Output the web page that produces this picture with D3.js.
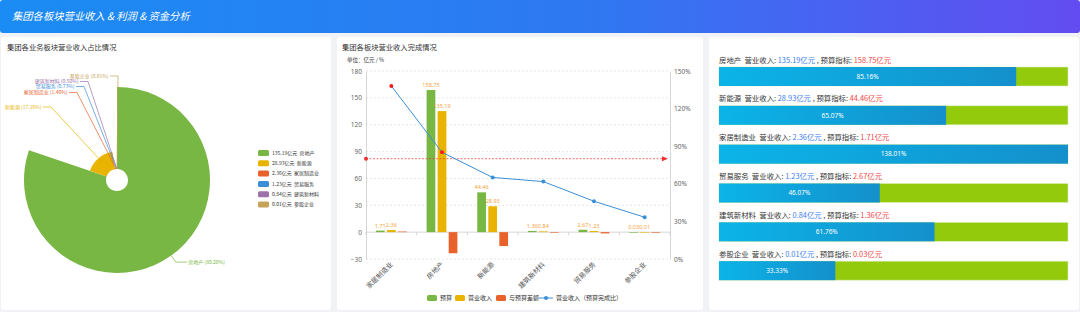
<!DOCTYPE html>
<html>
<head>
<meta charset="utf-8">
<script src="https://cdn.jsdelivr.net/npm/d3@7"></script>
<style>
  body { margin: 0; background: #f0f2f5; font-family: "Noto Sans CJK SC", "Noto Sans", sans-serif; }
  svg { display: block; }
  text { white-space: pre; }
</style>
</head>
<body>
<div id="chart"></div>
<script>
'use strict';

// data
let categories = ['房地产', '新能源', '家居制造业', '贸易服务', '建筑新材料', '参股企业'];
let revenue = [135.19, 28.93, 2.36, 1.23, 0.84, 0.01];
let budget = [158.75, 44.46, 1.71, 2.67, 1.36, 0.03];
let diff = [-23.56, -15.53, 0.65, -1.44, -0.52, -0.02];
let completion = [85.16, 65.07, 138.01, 46.07, 61.76, 33.33];
let targetRate = 80;
let leftTicks = [-30, 0, 30, 60, 90, 120, 150, 180];
let rightTicks = [0, 30, 60, 90, 120, 150];
let barSeries = ['预算', '营业收入', '与预算差额'];
let lineSeries = '营业收入（预算完成比）';

let colors = {
	'房地产': '#78b744', '新能源': '#e8b400', '家居制造业': '#e8622c',
	'贸易服务': '#3b8fd8', '建筑新材料': '#9b73a9', '参股企业': '#c5a45a'
};
let barColors = {'预算': '#78b744', '营业收入': '#e8b400', '与预算差额': '#e8622c'};

let rows = categories.map((c, i) => ({
	name: c, rev: revenue[i], budget: budget[i], diff: diff[i], rate: completion[i]
}));
let total = d3.sum(revenue);

let W = 1080, H = 312;
let svg = d3.select('#chart').append('svg')
	.attr('width', W)
	.attr('height', H);

let defs = svg.append('defs');
let hg = defs.append('linearGradient').attr('id', 'headGrad');
hg.append('stop').attr('offset', '0%').attr('stop-color', '#1a8cf3');
hg.append('stop').attr('offset', '55%').attr('stop-color', '#2f78f2');
hg.append('stop').attr('offset', '100%').attr('stop-color', '#634cf1');
let bg = defs.append('linearGradient').attr('id', 'blueGrad');
bg.append('stop').attr('offset', '0%').attr('stop-color', '#0bb4e8');
bg.append('stop').attr('offset', '100%').attr('stop-color', '#1490cc');

// header
svg.append('rect')
	.attr('x', 0).attr('y', 0).attr('width', W).attr('height', 33).attr('rx', 3)
	.attr('fill', 'url(#headGrad)');
svg.append('text')
	.attr('x', 12).attr('y', 19.5)
	.attr('fill', '#fff')
	.style('font-size', '10.3px')
	.style('font-style', 'italic')
	.text('集团各板块营业收入 & 利润 & 资金分析');

// panels
let panels = [[1, 331], [337, 703], [709, 1079]];
svg.selectAll('rect.panel')
	.data(panels)
	.join('rect')
	.classed('panel', true)
	.attr('x', d => d[0]).attr('y', 37)
	.attr('width', d => d[1] - d[0]).attr('height', 273)
	.attr('rx', 3)
	.attr('fill', '#fff');

svg.append('text').attr('x', 7).attr('y', 49.5)
	.style('font-size', '7.3px').attr('fill', '#333')
	.text('集团各业务板块营业收入占比情况');
svg.append('text').attr('x', 342).attr('y', 49.5)
	.style('font-size', '7.3px').attr('fill', '#333')
	.text('集团各板块营业收入完成情况');

// ---------- panel 1 : rose pie ----------
let cx = 117, cy = 180, r0 = 11, r1 = 93;
let clip1 = defs.append('clipPath').attr('id', 'clip1');
clip1.append('rect').attr('x', 1).attr('y', 37).attr('width', 330).attr('height', 273);
let pieG = svg.append('g').attr('clip-path', 'url(#clip1)');

let rose = d3.scaleLinear().domain(d3.extent(revenue)).range([r0, r1]);
let pie = d3.pie().sort(null).value(d => d.rev);
let arc = d3.arc().innerRadius(r0).outerRadius(d => rose(d.data.rev));
let arcs = pie(rows);

pieG.append('g').attr('transform', `translate(${cx},${cy})`)
	.selectAll('path')
	.data(arcs)
	.join('path')
	.attr('d', arc)
	.attr('fill', d => colors[d.data.name]);

// label layout: elbow point of the leader line for the crowded left-side labels
let labelPos = {
	'新能源': [51, 107], '家居制造业': [77, 92.5], '贸易服务': [84, 86.5],
	'建筑新材料': [88, 81.5], '参股企业': [118, 76]
};
arcs.forEach(d => {
	let a = (d.startAngle + d.endAngle) / 2;
	let dir = [Math.sin(a), -Math.cos(a)];
	let rr = rose(d.data.rev);
	let ax = cx + dir[0] * rr, ay = cy + dir[1] * rr;
	let pct = (d.data.rev / total * 100).toFixed(2);
	let col = colors[d.data.name];
	let ex, ey, tx, anchor, hx;
	if (labelPos[d.data.name]) {
		[ex, ey] = labelPos[d.data.name];
		hx = ex - 8; tx = ex - 9.5; anchor = 'end';
	} else {
		ex = ax + dir[0] * 8; ey = ay + dir[1] * 8;
		hx = ex + 11; tx = ex + 12.5; anchor = 'start';
	}
	pieG.append('polyline')
		.attr('points', [[ax, ay], [ex, ey], [hx, ey]].join(' '))
		.attr('fill', 'none').attr('stroke', col).attr('stroke-width', 0.7);
	pieG.append('text')
		.attr('x', tx).attr('y', ey)
		.attr('dy', '0.35em')
		.attr('text-anchor', anchor)
		.attr('fill', col)
		.style('font-size', '5px')
		.text(`${d.data.name} (${pct}%)`);
});

// pie legend
let leg1 = svg.append('g').attr('transform', 'translate(258,153)');
let legItems = leg1.selectAll('g')
	.data(rows)
	.join('g')
	.attr('transform', (d, i) => `translate(0,${i * 10.3})`);
legItems.append('rect')
	.attr('x', 0).attr('y', -3).attr('width', 11).attr('height', 6).attr('rx', 1.5)
	.attr('fill', d => colors[d.name]);
legItems.append('text')
	.attr('x', 14).attr('y', 0).attr('dy', '0.35em')
	.attr('fill', '#333')
	.style('font-size', '5px')
	.text(d => `${d.rev}亿元  ${d.name}`);

// ---------- panel 2 : bars + completion line ----------
let order = rows.slice().sort((a, b) => b.rate - a.rate);
let x = d3.scaleBand().domain(order.map(d => d.name)).range([366, 670]);
let xs = d3.scaleBand().domain(barSeries).range([-15.4, 15.4]).paddingInner(0.21);
let yL = d3.scaleLinear().domain([-30, 180]).range([259, 71]);
let yR = d3.scaleLinear().domain([0, 150]).range([259, 71]);

svg.append('text').attr('x', 347).attr('y', 62)
	.style('font-size', '5.5px').attr('fill', '#333')
	.text('单位：亿元 / %');

let grid = svg.append('g');
grid.selectAll('line')
	.data(leftTicks.filter(t => t !== 0))
	.join('line')
	.attr('x1', 366).attr('x2', 670)
	.attr('y1', d => yL(d)).attr('y2', d => yL(d))
	.attr('stroke', '#ddd').attr('stroke-width', 0.7).attr('stroke-dasharray', '2,2');

let axL = svg.append('g').attr('transform', 'translate(366,0)')
	.call(d3.axisLeft(yL).tickValues(leftTicks).tickSize(0).tickPadding(4));
let axR = svg.append('g').attr('transform', 'translate(670,0)')
	.call(d3.axisRight(yR).tickValues(rightTicks).tickSize(0).tickPadding(4).tickFormat(d => d + '%'));
[axL, axR].forEach(a => {
	a.select('.domain').attr('stroke', '#ccc').attr('stroke-width', 0.8);
	a.selectAll('text').style('font-size', '6.5px').attr('fill', '#666')
		.style('font-family', '"Noto Sans", sans-serif');
});

// zero line with ticks between categories
let axX = svg.append('g').attr('transform', `translate(0,${yL(0)})`);
axX.append('line').attr('x1', 366).attr('x2', 670).attr('stroke', '#ccc').attr('stroke-width', 0.8);
axX.selectAll('line.tk')
	.data(order.map(d => x(d.name)).concat([670]))
	.join('line')
	.classed('tk', true)
	.attr('x1', d => d).attr('x2', d => d).attr('y1', 0).attr('y2', 3)
	.attr('stroke', '#ccc').attr('stroke-width', 0.8);

svg.append('g')
	.selectAll('text')
	.data(order)
	.join('text')
	.attr('transform', d => `translate(${x(d.name) + x.bandwidth() / 2 + 2},${yL(-30) + 6}) rotate(-45)`)
	.attr('text-anchor', 'end')
	.attr('fill', '#555')
	.style('font-size', '6.8px')
	.text(d => d.name);

// bars
let barData = [];
order.forEach(d => {
	barData.push({name: d.name, s: '预算', v: d.budget});
	barData.push({name: d.name, s: '营业收入', v: d.rev});
	barData.push({name: d.name, s: '与预算差额', v: d.diff});
});
let bx = d => x(d.name) + x.bandwidth() / 2 + xs(d.s);
svg.append('g')
	.selectAll('rect')
	.data(barData)
	.join('rect')
	.attr('x', bx)
	.attr('width', xs.bandwidth())
	.attr('y', d => yL(Math.max(0, d.v)))
	.attr('height', d => Math.max(0.6, Math.abs(yL(d.v) - yL(0))))
	.attr('fill', d => barColors[d.s]);

svg.append('g')
	.selectAll('text')
	.data(barData.filter(d => d.s !== '与预算差额'))
	.join('text')
	.attr('x', d => bx(d) + xs.bandwidth() / 2)
	.attr('y', d => yL(d.v) - 3)
	.attr('text-anchor', 'middle')
	.attr('fill', '#f5a23c')
	.style('font-size', '5.5px')
	.style('font-family', '"Noto Sans", sans-serif')
	.text(d => d.v.toFixed(2));

// target mark line
let ty = yR(targetRate);
svg.append('line')
	.attr('x1', 366).attr('x2', 664).attr('y1', ty).attr('y2', ty)
	.attr('stroke', '#f03030').attr('stroke-width', 0.7).attr('stroke-dasharray', '2,1.5');
svg.append('circle').attr('cx', 366).attr('cy', ty).attr('r', 2).attr('fill', '#f03030');
svg.append('path')
	.attr('d', d3.line()([[662, ty - 2.5], [668, ty], [662, ty + 2.5]]) + 'Z')
	.attr('fill', '#f03030');

// completion line
let cxLine = d => x(d.name) + x.bandwidth() / 2;
svg.append('path')
	.datum(order)
	.attr('d', d3.line().x(cxLine).y(d => yR(d.rate)))
	.attr('fill', 'none').attr('stroke', '#3b8fd8').attr('stroke-width', 1);
svg.append('g')
	.selectAll('circle')
	.data(order)
	.join('circle')
	.attr('cx', cxLine).attr('cy', d => yR(d.rate)).attr('r', 2)
	.attr('fill', d => d.rate >= targetRate ? '#ff1a1a' : '#3b8fd8');

// bottom legend
let leg2 = svg.append('g').attr('transform', 'translate(0,298)');
let legX = [427, 455, 496];
barSeries.forEach((s, i) => {
	leg2.append('rect').attr('x', legX[i]).attr('y', -3).attr('width', 10).attr('height', 6).attr('rx', 1.5)
		.attr('fill', barColors[s]);
	leg2.append('text').attr('x', legX[i] + 13).attr('y', 0).attr('dy', '0.35em')
		.attr('fill', '#333').style('font-size', '6px').text(s);
});
leg2.append('line').attr('x1', 539).attr('x2', 553).attr('y1', 0).attr('y2', 0)
	.attr('stroke', '#3b8fd8').attr('stroke-width', 1);
leg2.append('circle').attr('cx', 546).attr('cy', 0).attr('r', 2).attr('fill', '#3b8fd8');
leg2.append('text').attr('x', 556).attr('y', 0).attr('dy', '0.35em')
	.attr('fill', '#333').style('font-size', '6px').text(lineSeries);

// ---------- panel 3 : progress rows ----------
let px = d3.scaleLinear().domain([0, 100]).range([719, 1068]).clamp(true);
let rowY = d3.scaleBand().domain(categories).range([67, 300]).paddingInner(0);
let prog = svg.append('g')
	.selectAll('g')
	.data(rows)
	.join('g')
	.attr('transform', d => `translate(0,${rowY(d.name)})`);

let lbl = prog.append('text').attr('x', 719).attr('y', -4.5)
	.style('font-size', '7.4px').attr('fill', '#333');
lbl.append('tspan').text(d => `${d.name}  营业收入: `);
lbl.append('tspan').attr('fill', '#3d7ef0').text(d => `${d.rev}亿元`);
lbl.append('tspan').text(' , 预算指标: ');
lbl.append('tspan').attr('fill', '#f04646').text(d => `${d.budget}亿元`);

prog.append('rect')
	.attr('x', px(0)).attr('y', 0)
	.attr('width', px(100) - px(0)).attr('height', 19)
	.attr('fill', '#93cb0c').attr('stroke', '#dcefc0').attr('stroke-width', 0.6);
prog.append('rect')
	.attr('x', px(0)).attr('y', 0)
	.attr('width', d => px(d.rate) - px(0)).attr('height', 19)
	.attr('fill', 'url(#blueGrad)');
prog.append('text')
	.attr('x', d => (px(0) + px(d.rate)) / 2).attr('y', 9.5).attr('dy', '0.35em')
	.attr('text-anchor', 'middle')
	.attr('fill', '#fff')
	.style('font-size', '6.5px')
	.style('font-family', '"Noto Sans", sans-serif')
	.text(d => d.rate.toFixed(2) + '%');
</script>
</body>
</html>
